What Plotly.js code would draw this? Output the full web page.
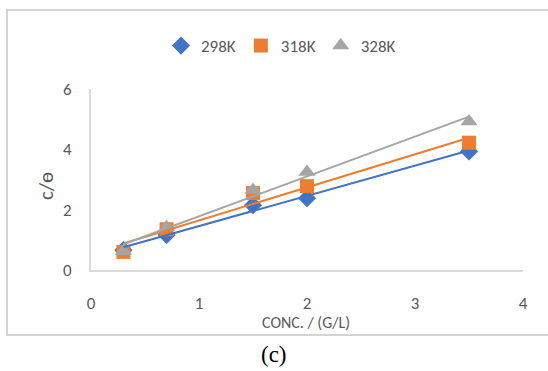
<!DOCTYPE html>
<html><head><meta charset="utf-8">
<script src="https://cdn.plot.ly/plotly-3.0.1.min.js"></script>
<style>html,body{margin:0;padding:0;background:#fff}#chart{width:548px;height:371px}</style>
</head><body><div id="chart"></div>
<script>
const conc = [0.3, 0.7, 1.5, 2.0, 3.5];
const y298 = [0.66, 1.16, 2.15, 2.38, 3.93];
const y318 = [0.60, 1.35, 2.55, 2.78, 4.22];
const y328 = [0.62, 1.42, 2.65, 3.25, 4.92];
const seriesNames = ['298K', '318K', '328K'];
const xTicks = [0, 1, 2, 3, 4];
const yTicks = [0, 2, 4, 6];

const colors = ['#4472C4', '#ED7D31', '#A5A5A5'];
const symbols = ['diamond', 'square', 'triangle-up'];
const sizes = [14, 14, 15];
const ys = [y298, y318, y328];

function fit(x, y) {
  const n = x.length;
  const mx = x.reduce((a, b) => a + b, 0) / n;
  const my = y.reduce((a, b) => a + b, 0) / n;
  let sxy = 0, sxx = 0;
  for (let i = 0; i < n; i++) { sxy += (x[i] - mx) * (y[i] - my); sxx += (x[i] - mx) ** 2; }
  const m = sxy / sxx;
  return [m, my - m * mx];
}

const traces = [];
ys.forEach((y, i) => {
  traces.push({
    x: conc, y: y, type: 'scatter', mode: 'markers', name: seriesNames[i],
    marker: {symbol: symbols[i], color: colors[i], size: sizes[i], line: {width: 0}}
  });
});
ys.forEach((y, i) => {
  const [m, b] = fit(conc, y);
  const x0 = Math.min(...conc), x1 = Math.max(...conc);
  traces.push({
    x: [x0, x1], y: [m * x0 + b, m * x1 + b], type: 'scatter', mode: 'lines',
    line: {color: colors[i], width: 2}, showlegend: false, hoverinfo: 'skip'
  });
});

const W = 432, H = 181; // plot area size in px
const px = v => (v - 91) / W;
const py = v => (270 - v) / H;

const layout = {
  width: 548, height: 371,
  margin: {l: 91, r: 25, t: 89, b: 101},
  paper_bgcolor: '#fff', plot_bgcolor: '#fff',
  font: {family: 'Carlito, Calibri, Lato, sans-serif', size: 17, color: '#595959'},
  showlegend: true,
  legend: {orientation: 'h', x: px(281), xanchor: 'center', y: py(46), yanchor: 'middle',
    font: {size: 17, color: '#595959'}, itemwidth: 30, tracegroupgap: 0},
  xaxis: {range: [0, 4], tickvals: xTicks, showgrid: false, zeroline: false,
    showline: true, linecolor: '#d9d9d9', linewidth: 2, ticks: '', ticklabelstandoff: 17,
    tickfont: {size: 17, color: '#595959'}, fixedrange: true},
  yaxis: {range: [0, 6], tickvals: yTicks, showgrid: false, zeroline: false,
    showline: true, linecolor: '#d9d9d9', linewidth: 2, ticks: '', ticklabelstandoff: 14,
    tickfont: {size: 17, color: '#595959'}, fixedrange: true},
  annotations: [
    {text: 'CONC. / (G/L)', xref: 'paper', yref: 'paper', x: px(306), y: py(322),
     xanchor: 'center', yanchor: 'middle', showarrow: false, font: {size: 16, color: '#595959'}},
    {text: 'c/ɵ', xref: 'paper', yref: 'paper', x: px(46), y: py(186), textangle: -90,
     xanchor: 'center', yanchor: 'middle', showarrow: false, font: {size: 21, color: '#595959'}},
    {text: '(c)', xref: 'paper', yref: 'paper', x: px(274), y: py(354),
     xanchor: 'center', yanchor: 'middle', showarrow: false,
     font: {family: '"Liberation Serif", "Times New Roman", serif', size: 23, color: '#000'}}
  ],
  shapes: [
    {type: 'rect', xref: 'paper', yref: 'paper', x0: px(7), x1: px(551), y0: py(335), y1: py(10),
     line: {color: '#d4d4d4', width: 2}, layer: 'below'}
  ]
};

Plotly.newPlot('chart', traces, layout, {displayModeBar: false, staticPlot: true});
</script></body></html>
